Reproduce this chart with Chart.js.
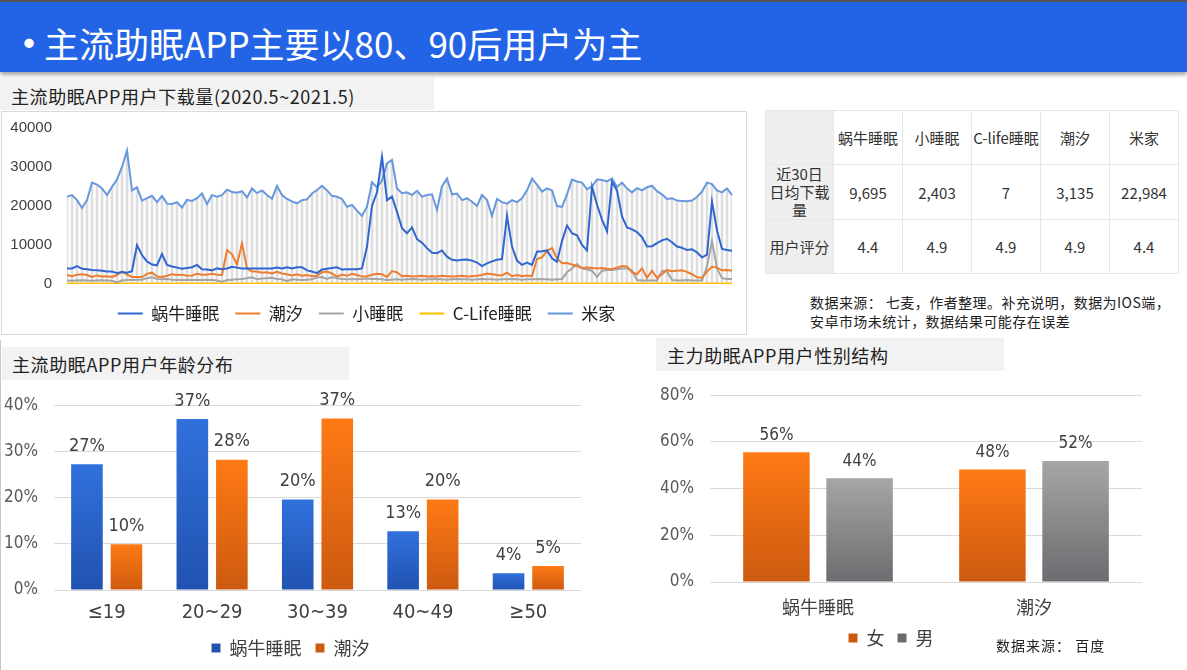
<!DOCTYPE html>
<html><head><meta charset="utf-8">
<script src="https://cdn.jsdelivr.net/npm/chart.js@4.4.1/dist/chart.umd.min.js"></script>
<style>
html,body{margin:0;padding:0;}
body{width:1187px;height:670px;position:relative;overflow:hidden;background:#fff;font-family:"Noto Sans CJK SC","Noto Sans",sans-serif;color:#222;}
.abs{position:absolute;}
#topline{left:0;top:0;width:1187px;height:2px;background:#555;}
#titlebar{left:0;top:2px;width:1187px;height:70px;background:#2364e6;box-shadow:0 3px 4px rgba(0,0,0,0.35);}
#bullet{left:7px;top:18px;font-size:44px;line-height:46px;color:#fff;}
#title{left:44px;top:23px;font-size:35px;line-height:40px;color:#fff;white-space:nowrap;}
.lbl{background:#f2f2f2;font-size:18px;color:#222;white-space:nowrap;letter-spacing:0.6px;box-sizing:border-box;}
#lbl1{left:0;top:77px;width:434px;height:33px;line-height:38px;padding-left:11px;}
#lbl2{left:2px;top:347px;width:347px;height:33px;line-height:35px;padding-left:10px;}
#lbl3{left:656px;top:338px;width:348px;height:33px;line-height:35px;padding-left:11px;}
#box1{left:1px;top:111px;width:746px;height:224px;border:1px solid #d9d9d9;box-sizing:border-box;}
#leftline{left:0;top:340px;width:1px;height:330px;background:#c8c8c8;}
#tbl{left:765px;top:110px;border-collapse:collapse;table-layout:fixed;font-size:15px;color:#333;}
#tbl td{border:1px solid #e6e6e6;height:53px;text-align:center;vertical-align:middle;padding:0;white-space:nowrap;}
#tbl td.h{background:#efefef;line-height:18px;}
#note1{left:810px;top:293px;font-size:14px;line-height:18.5px;color:#222;letter-spacing:0.45px;white-space:nowrap;}
#note2{left:996px;top:636px;font-size:14px;line-height:18px;color:#222;letter-spacing:1px;white-space:nowrap;}
canvas{position:absolute;}
</style></head>
<body>
<div id="topline" class="abs"></div>
<div id="titlebar" class="abs"></div>
<div id="bullet" class="abs">•</div>
<div id="title" class="abs">主流助眠APP主要以80、90后用户为主</div>
<div id="lbl1" class="abs lbl">主流助眠APP用户下载量(2020.5~2021.5)</div>
<div id="box1" class="abs"></div>
<canvas id="lineChart" width="744" height="228" style="left:1px;top:104px;"></canvas>
<table id="tbl" class="abs"></table>
<div id="note1" class="abs">数据来源： 七麦，作者整理。补充说明，数据为IOS端，<br>安卓市场未统计，数据结果可能存在误差</div>
<div id="leftline" class="abs"></div>
<div id="lbl2" class="abs lbl">主流助眠APP用户年龄分布</div>
<canvas id="ageChart" width="600" height="291" style="left:0px;top:379px;"></canvas>
<div id="lbl3" class="abs lbl">主力助眠APP用户性别结构</div>
<canvas id="genderChart" width="547" height="301" style="left:640px;top:369px;"></canvas>
<div id="note2" class="abs">数据来源： 百度</div>
<script>
// ---------- download line chart data (2020.5 ~ 2021.5) ----------
const MIJIA = [22400,22800,21500,19500,21500,26000,25500,24500,22800,24900,
26800,30000,34200,24000,24800,21400,22000,22600,21000,22600,
20600,20500,21000,19600,21600,21300,22000,23200,20500,22800,
22400,22800,24200,23600,23400,23800,22200,24500,23300,24000,
22800,21900,25100,22800,21800,21200,20700,21500,21700,23200,
24100,25200,24000,22600,22400,21800,19800,20300,18800,17500,
19800,26100,24800,26500,30900,31800,24500,23300,23500,22800,
23900,22400,22800,23000,19000,25000,27000,23000,23200,21500,
22000,21100,20000,22800,21500,17500,21800,21000,20600,21500,
21000,22000,24000,27000,25500,23700,24500,24000,20000,19800,
23000,26800,26300,26000,24300,25000,26800,26700,26300,27000,
24900,26000,24500,23500,24600,24000,24800,25200,23800,23000,
21800,22000,21400,21300,21200,21400,22300,23700,26000,25600,
24000,23500,24500,22800];
const WONIU = [4000,4000,4600,3900,3800,3600,3500,3400,3200,3200,
2800,3100,2900,3300,10000,7400,5800,5000,4800,7700,
4900,4500,4200,3900,4100,4300,4900,3800,3700,3500,
4000,3800,4000,4400,4200,4000,4000,4000,4000,4000,
4000,4000,4200,4000,4300,4000,4300,4300,3500,3200,
2800,3700,3900,4100,4300,3700,3800,3800,3800,4000,
9600,20000,23500,32600,21500,22400,18500,14300,13000,14500,
11500,10600,9200,8000,7900,8600,7000,6200,6000,6200,
6300,6000,5500,4600,5300,5800,6200,6400,17500,9600,
6000,4900,5500,4900,8300,8400,8600,6600,5700,11000,
15000,13000,12500,10000,8600,25000,20300,16500,13500,26200,
24000,17300,14500,14000,13300,12000,9600,9700,10500,11200,
11600,10700,9600,9300,8700,8900,8100,6800,7500,21100,
13800,9000,8700,8500];
const CHAOXI = [2300,2000,2400,2500,2300,1800,2200,1900,2000,1800,
2300,3200,2400,1800,1800,1800,2600,2900,1900,1800,
2100,2500,2300,2400,2100,2200,2600,2400,2400,2600,
2400,2300,8700,7600,5000,10400,4000,3200,3200,2900,
3000,2700,3100,2700,2500,2200,2500,2100,2300,2000,
2100,3000,3200,2700,1900,2400,2100,2600,2300,1900,
2000,2400,2600,2500,1800,3300,3000,2000,2100,1900,
2000,2100,1900,2000,1900,2100,2000,1900,2000,2100,
1900,2000,2100,2300,2700,2500,2300,2200,2900,2000,
2300,2000,2200,2000,6400,6800,8500,9200,6600,5300,
5400,5000,4600,4100,4200,4100,4000,4100,3900,3800,
4200,4600,4500,3000,2500,4000,1600,3400,1600,2500,
3600,3300,3400,3500,3100,2500,1700,1600,3200,4400,
4200,3500,3600,3400];
const XIAOSHUIMIAN = [900,850,900,950,900,850,900,950,900,850,
400,900,1000,1000,1100,1100,1500,1700,1300,1200,
1300,1100,1000,1000,1100,1000,1000,1000,1100,1000,
900,600,1000,1100,1200,1300,1500,1700,1200,1400,
1500,1600,1300,1200,700,1200,1100,1000,1100,1200,
1700,1800,1300,1800,1500,1300,1200,1200,1200,1300,
1400,1300,1300,1200,1000,1100,1200,1100,1200,1300,
1200,1100,1200,1200,1300,1200,1100,1200,1300,1200,
1200,1100,1200,1300,1200,1200,1100,1200,1200,1300,
1200,1100,1200,1200,1300,1200,1200,1100,1200,1300,
3000,4000,5100,4000,3700,3400,1800,3400,3600,3600,
3800,4000,4000,3500,1000,900,900,900,900,3400,
3200,1000,900,900,1000,900,900,900,4500,11000,
4000,1500,1300,1300];
const CLIFE = [120,100,110,90,100,130,100,80,110,100,
90,120,100,100,110,90,80,120,100,110,
100,90,100,130,110,100,90,100,110,120,
100,100,80,110,100,120,100,90,100,110,
120,100,90,100,110,100,130,90,100,110,
100,80,110,100,120,100,100,90,110,100,
120,100,90,100,110,100,120,80,100,110,
100,90,110,100,130,100,100,90,110,100,
120,100,80,100,110,100,120,90,100,110,
100,90,110,100,120,100,100,80,110,100,
130,100,90,100,110,100,120,90,100,110,
100,80,110,100,120,100,100,90,110,100,
120,100,90,100,110,100,130,90,100,110,
100,90,110,100];
const DAYS = MIJIA.map((_, i) => 'D' + (i + 1));
const LINE_SERIES_NAMES = ['蜗牛睡眠', '潮汐', '小睡眠', 'C-Life睡眠', '米家'];
const LINE_TICK_STEP = 10000;
const LINE_MAX = 40000;

// ---------- table ----------
const TABLE_APPS = ['蜗牛睡眠', '小睡眠', 'C-life睡眠', '潮汐', '米家'];
const TABLE_DOWNLOADS = ['9,695', '2,403', '7', '3,135', '22,984'];
const TABLE_SCORES = ['4.4', '4.9', '4.9', '4.9', '4.4'];

// ---------- age chart ----------
const AGE_GROUPS = ['≤19', '20~29', '30~39', '40~49', '≥50'];
const AGE_WONIU = [27.2, 37.0, 19.6, 12.7, 3.6];
const AGE_CHAOXI = [9.9, 28.2, 37.1, 19.6, 5.2];
const AGE_MAX = 40;

// ---------- gender chart ----------
const GENDER_APPS = ['蜗牛睡眠', '潮汐'];
const GENDER_FEMALE = [55.6, 48.2];
const GENDER_MALE = [44.4, 51.8];
const GENDER_MAX = 80;

// ================= build ===================
const CJK = '"Noto Sans CJK SC","Noto Sans",sans-serif';
const COND = '"Liberation Sans Narrow","DejaVu Sans Condensed","Liberation Sans",sans-serif';
const ARIAL = '"Liberation Sans",Arial,sans-serif';

// table
(function(){
  const t = document.getElementById('tbl');
  let html = '<colgroup><col style="width:68px">' + TABLE_APPS.map(() => '<col style="width:69px">').join('') + '</colgroup>';
  html += '<tr><td class="h"></td>' + TABLE_APPS.map(a => '<td>' + a + '</td>').join('') + '</tr>';
  html += '<tr><td class="h">近30日<br>日均下载<br>量</td>' + TABLE_DOWNLOADS.map(a => '<td>' + a + '</td>').join('') + '</tr>';
  html += '<tr><td class="h">用户评分</td>' + TABLE_SCORES.map(a => '<td>' + a + '</td>').join('') + '</tr>';
  t.innerHTML = html;
})();

// line chart
const LINE_COLORS = ['#2f66d0', '#ed7d31', '#a5a5a5', '#ffc000', '#6797dc'];
const LINE_DATA = [WONIU, CHAOXI, XIAOSHUIMIAN, CLIFE, MIJIA];
const dropTop = MIJIA.map((v, i) => Math.max(v, WONIU[i]));
new Chart(document.getElementById('lineChart'), {
  type: 'line',
  data: {
    labels: DAYS,
    datasets: LINE_DATA.map((d, k) => ({
      label: LINE_SERIES_NAMES[k], data: d, borderColor: LINE_COLORS[k], backgroundColor: LINE_COLORS[k],
      borderWidth: 2, pointRadius: 0, tension: 0, order: 1
    })).concat([{
      type: 'bar', label: 'drop', data: dropTop, backgroundColor: '#dedede', barThickness: 2, order: 10
    }])
  },
  options: {
    responsive: false, animation: false,
    layout: { padding: { top: 0, right: 13, bottom: 0, left: 0 } },
    scales: {
      x: { display: true, offset: false, ticks: { display: false }, grid: { display: false, drawTicks: false },
           border: { display: false }, afterFit(s) { s.height = 5; } },
      y: {
        min: 0, max: LINE_MAX,
        ticks: { stepSize: LINE_TICK_STEP, callback: v => String(v), font: { family: ARIAL, size: 15 }, color: '#404040', padding: 15 },
        grid: { display: false, drawTicks: false }, border: { display: false },
        afterFit(s) { s.width = 66; }
      }
    },
    plugins: {
      tooltip: { enabled: false },
      legend: {
        position: 'bottom',
        labels: {
          boxWidth: 25, boxHeight: 0, padding: 16, color: '#222',
          font: { family: CJK, size: 17 },
          filter: (item) => item.datasetIndex < 5
        }
      }
    }
  }
});

// bar helpers
function vgrad(top, bottom) {
  return (ctx) => {
    if (ctx.type !== 'data') return top;
    const chart = ctx.chart;
    const ys = chart.scales && chart.scales.y;
    if (!chart.chartArea || !ys) return top;
    const y1 = ys.getPixelForValue(ctx.raw);
    const y0 = ys.getPixelForValue(0);
    if (!isFinite(y1) || !isFinite(y0) || y0 === y1) return top;
    const g = chart.ctx.createLinearGradient(0, y1, 0, y0);
    g.addColorStop(0, top); g.addColorStop(1, bottom);
    return g;
  };
}
function barLabels(font, color, offset) {
  return {
    id: 'barLabels',
    afterDatasetsDraw(chart) {
      const c = chart.ctx;
      c.save();
      c.font = font; c.fillStyle = color; c.textAlign = 'center'; c.textBaseline = 'middle';
      chart.data.datasets.forEach((ds, di) => {
        chart.getDatasetMeta(di).data.forEach((el, i) => {
          c.fillText(Math.round(ds.data[i]) + '%', el.x, el.y - offset);
        });
      });
      c.restore();
    }
  };
}

const BLUE_T = '#3171dc', BLUE_B = '#2152b0';
const ORANGE_T = '#ff7a15', ORANGE_B = '#cc5a10';
const GRAY_T = '#a6a6a6', GRAY_B = '#6c6c70';

// age chart
new Chart(document.getElementById('ageChart'), {
  type: 'bar',
  data: {
    labels: AGE_GROUPS,
    datasets: [
      { label: '蜗牛睡眠', data: AGE_WONIU, backgroundColor: vgrad(BLUE_T, BLUE_B), categoryPercentage: 0.75, barPercentage: 0.8 },
      { label: '潮汐', data: AGE_CHAOXI, backgroundColor: vgrad(ORANGE_T, ORANGE_B), categoryPercentage: 0.75, barPercentage: 0.8 }
    ]
  },
  options: {
    responsive: false, animation: false,
    layout: { padding: { top: 0, right: 19, bottom: 3, left: 0 } },
    scales: {
      x: { grid: { display: false, drawTicks: false }, border: { display: false },
           ticks: { font: { family: COND, size: 20 }, color: '#404040', padding: 11 },
           afterFit(s) { s.height = 35; } },
      y: { min: 0, max: AGE_MAX,
           ticks: { stepSize: 10, callback: v => v + '%', font: { family: COND, size: 17 }, color: '#595959', padding: 16 },
           grid: { color: '#d9d9d9', drawTicks: false }, border: { display: false },
           afterFit(s) { s.width = 54; } }
    },
    plugins: {
      tooltip: { enabled: false },
      legend: { position: 'bottom', labels: { boxWidth: 9, boxHeight: 9, padding: 14, color: '#404040', font: { family: CJK, size: 18 } } }
    }
  },
  plugins: [barLabels('18px ' + COND, '#404040', 18)]
});

// gender chart
new Chart(document.getElementById('genderChart'), {
  type: 'bar',
  data: {
    labels: GENDER_APPS,
    datasets: [
      { label: '女', data: GENDER_FEMALE, backgroundColor: vgrad(ORANGE_T, ORANGE_B), categoryPercentage: 0.77, barPercentage: 0.8 },
      { label: '男', data: GENDER_MALE, backgroundColor: vgrad(GRAY_T, GRAY_B), categoryPercentage: 0.77, barPercentage: 0.8 }
    ]
  },
  options: {
    responsive: false, animation: false,
    layout: { padding: { top: 0, right: 45, bottom: 13, left: 0 } },
    scales: {
      x: { grid: { display: false, drawTicks: false }, border: { display: false },
           ticks: { font: { family: CJK, size: 18 }, color: '#404040', padding: 14 },
           afterFit(s) { s.height = 34; } },
      y: { min: 0, max: GENDER_MAX,
           ticks: { stepSize: 20, callback: v => v + '%', font: { family: COND, size: 17 }, color: '#595959', padding: 16 },
           grid: { color: '#d9d9d9', drawTicks: false }, border: { display: false },
           afterFit(s) { s.width = 70; } }
    },
    plugins: {
      tooltip: { enabled: false },
      legend: { position: 'bottom', labels: { boxWidth: 9, boxHeight: 9, padding: 13, color: '#404040', font: { family: CJK, size: 18 } } }
    }
  },
  plugins: [barLabels('17px ' + COND, '#404040', 17)]
});
</script>
</body></html>
